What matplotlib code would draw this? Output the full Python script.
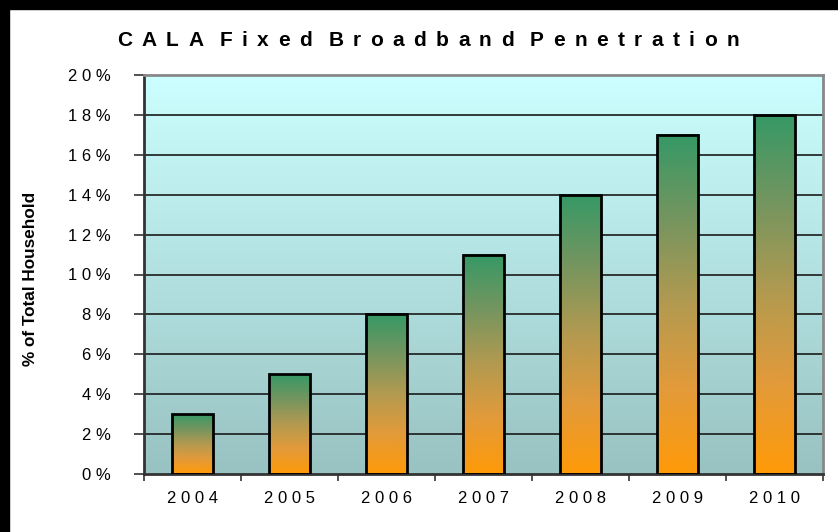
import numpy as np
import matplotlib.pyplot as plt
from matplotlib.patches import Rectangle
from matplotlib.colors import LinearSegmentedColormap

plt.rcParams['font.family'] = ['Liberation Sans', 'DejaVu Sans']

title = "CALA Fixed Broadband Penetration"
years = ["2004", "2005", "2006", "2007", "2008", "2009", "2010"]
penetration = [3, 5, 8, 11, 14, 17, 18]
y_ticks = list(range(0, 21, 2))

def spaced(s):
    return " ".join(s)

W, H = 838, 532
fig = plt.figure(figsize=(W / 100, H / 100), dpi=100)

# black edges of the screenshot
fig.patches.append(Rectangle((0, 1 - 9 / H), 1, 9 / H, transform=fig.transFigure,
                             color="black", zorder=-1))
fig.patches.append(Rectangle((0, 0), 9 / W, 1, transform=fig.transFigure,
                             color="black", zorder=-1))

ax = fig.add_axes([144 / W, 1 - 474 / H, (823 - 144) / W, (474 - 75) / H])

# plot area gradient
bg = LinearSegmentedColormap.from_list("bg", ["#99c2c2", "#ccffff"])
grad = np.linspace(0, 1, 256).reshape(-1, 1)
ax.imshow(grad, cmap=bg, origin="lower", aspect="auto",
          extent=(0, 1, 0, 1), transform=ax.transAxes, zorder=0)

for v in y_ticks[1:-1]:
    ax.axhline(v, color="#1a1a1a", lw=1.2, zorder=1)

bar_cmap = LinearSegmentedColormap.from_list(
    "bar", [(0, "#ff9a08"), (0.25, "#e39a3a"), (0.5, "#b39a50"),
            (0.75, "#75955f"), (1, "#359966")])
x = np.arange(len(years))
width = 0.43
for xi, val in zip(x, penetration):
    ax.imshow(grad, cmap=bar_cmap, origin="lower", aspect="auto",
              extent=(xi - width / 2, xi + width / 2, 0, val), zorder=2)
    ax.add_patch(Rectangle((xi - width / 2, 0), width, val, fill=False,
                           edgecolor="black", lw=2, zorder=3))

ax.set_xlim(-0.5, len(years) - 0.5)
ax.set_ylim(0, 20)
ax.set_yticks(y_ticks)
ax.set_yticklabels([spaced(f"{v}%") for v in y_ticks])
ax.set_xticks(list(x - 0.5) + [len(years) - 0.5])
ax.set_xticklabels([])
ax.set_xticks(x, minor=True)
ax.set_xticklabels([spaced(y) for y in years], minor=True)
ax.tick_params(axis="x", which="major", length=5, width=1.2, color="#333333", direction="out")
ax.tick_params(axis="x", which="minor", length=0, pad=12, labelsize=12)
ax.tick_params(axis="y", length=7, width=1.2, color="#333333", pad=17, labelsize=12)

for s in ["left", "bottom"]:
    ax.spines[s].set_color("#333333")
    ax.spines[s].set_linewidth(2)
for s in ["top", "right"]:
    ax.spines[s].set_color("#888888")
    ax.spines[s].set_linewidth(2)

ax.set_ylabel("% of Total Household", fontsize=12.3, fontweight="bold", va="center")
ax.yaxis.set_label_coords((31 - 144) / (823 - 144), 0.49)

# title with wide letter spacing, laid out letter by letter
r = fig.canvas.get_renderer()
tkw = dict(fontsize=15, fontweight="bold")
widths = []
for ch in title.replace(" ", ""):
    t = fig.text(0, 0, ch, **tkw)
    widths.append(t.get_window_extent(r).width)
    t.remove()
x0, x1, word_extra = 117, 739, 7
n_words = len(title.split(" "))
n_gaps = len(widths) - 1
track = (x1 - x0 - sum(widths) - word_extra * (n_words - 1)) / n_gaps
px = x0
i = 0
for word in title.split(" "):
    for ch in word:
        fig.text(px / W, 1 - 40 / H, ch, ha="left", va="center", **tkw)
        px += widths[i] + track
        i += 1
    px += word_extra

fig.savefig("out.png", dpi=100, facecolor="white")
